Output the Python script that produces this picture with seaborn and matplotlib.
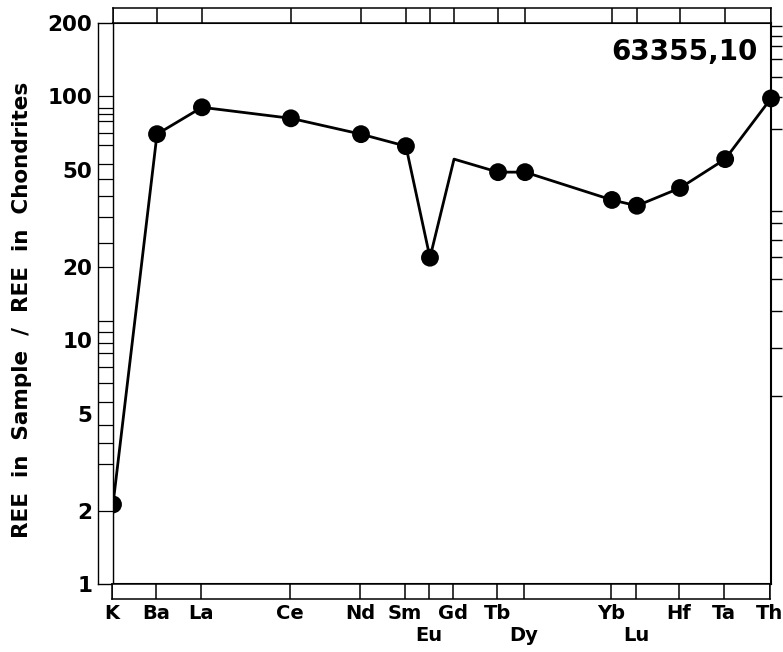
import matplotlib
matplotlib.use("Agg")
import matplotlib.pyplot as plt
import seaborn as sns
import pandas as pd
from matplotlib.ticker import NullLocator, FixedLocator, FixedFormatter

# ---- data ----
elements = ["K", "Ba", "La", "Ce", "Nd", "Sm", "Eu", "Gd", "Tb", "Dy", "Yb", "Lu", "Hf", "Ta", "Th"]
x_pos = [0, 1.94, 3.92, 7.84, 10.93, 12.91, 13.97, 15.03, 16.97, 18.16, 21.99, 23.09, 24.99, 26.98, 29]
ratio = [2.12, 70.0, 90.2, 81.3, 70.0, 62.5, 21.8, 55.3, 48.9, 48.9, 37.6, 35.6, 42.1, 55.3, 98.1]
measured = [True, True, True, True, True, True, True, False, True, True, True, True, True, True, True]
lower_row = ["Eu", "Dy", "Lu"]
y_major = [1, 2, 5, 10, 20, 50, 100, 200]
y_major_labels = ["1", "2", "5", "10", "20", "50", "100", "200"]
left_strip_lines = [100, 90, 85, 79, 71, 63, 53, 46, 39, 32, 25, 20,
                    12, 10.8, 9.7, 8.9, 7.8, 6.7, 5.6, 4.5, 3.8, 3.1, 2.0]
right_ticks = [195, 177, 161, 142, 120, 99.5, 73.5,
               33.9, 30.3, 25.8, 22.0, 17.8, 13.2, 9.29, 5.90]
sample_label = "63355,10"
y_title = "REE  in  Sample  /  REE  in  Chondrites"

df = pd.DataFrame({"element": elements, "pos": x_pos, "ratio": ratio, "measured": measured})

sns.set_style("white")
plt.rcParams["font.family"] = ["DejaVu Sans"]
plt.rcParams["font.weight"] = "bold"
for key in ["text.color", "axes.labelcolor", "xtick.color", "ytick.color", "axes.edgecolor"]:
    plt.rcParams[key] = "black"

W, H = 783, 652
fig = plt.figure(figsize=(W / 100, H / 100), dpi=100)


def rect(x0, y0, x1, y1):
    return [x0 / W, 1 - y1 / H, (x1 - x0) / W, (y1 - y0) / H]


LW = 1.5
XL = (0, 29)
YL = (1, 200)

# main axes
ax = fig.add_axes(rect(113, 23, 771, 584))
sns.lineplot(data=df, x="pos", y="ratio", sort=False, estimator=None,
             color="black", lw=2.0, ax=ax, zorder=2)
sns.scatterplot(data=df[df["measured"]], x="pos", y="ratio", s=165,
                color="black", edgecolor="none", ax=ax, zorder=3)
ax.collections[-1].set_clip_on(False)
ax.set_yscale("log")
ax.set_xlim(*XL)
ax.set_ylim(*YL)
ax.set_xlabel("")
ax.set_ylabel("")
ax.set_xticks([])
ax.yaxis.tick_right()
ax.yaxis.set_major_locator(FixedLocator(right_ticks))
ax.yaxis.set_minor_locator(NullLocator())
ax.set_yticklabels([])
ax.tick_params(axis="y", direction="out", length=8, width=1.0, right=True, left=False)
for s in ax.spines.values():
    s.set_linewidth(LW)
    s.set_color("black")
ax.text(0.979, 0.948, sample_label, transform=ax.transAxes, ha="right", va="center",
        fontsize=20, fontweight="bold")

# left strip with value labels
axL = fig.add_axes(rect(98, 23, 113, 584))
axL.set_yscale("log")
axL.set_ylim(*YL)
axL.set_xlim(0, 1)
axL.set_xticks([])
axL.yaxis.set_major_locator(FixedLocator(y_major))
axL.yaxis.set_major_formatter(FixedFormatter(y_major_labels))
axL.yaxis.set_minor_locator(NullLocator())
axL.tick_params(axis="y", length=0, pad=4, labelsize=15.5)
for t in axL.get_yticklabels():
    t.set_fontweight("bold")
for v in left_strip_lines:
    axL.axhline(v, color="black", lw=0.9)
for s in axL.spines.values():
    s.set_linewidth(1.0)

# top strip
axT = fig.add_axes(rect(113, 8, 771, 23))
axT.set_xlim(*XL)
axT.set_ylim(0, 1)
axT.set_xticks([])
axT.set_yticks([])
for p in x_pos:
    axT.axvline(p, color="black", lw=1.1)
for s in axT.spines.values():
    s.set_linewidth(1.1)

# bottom strip with element labels (two staggered rows)
axB = fig.add_axes(rect(112, 584, 770, 599))
axB.set_xlim(*XL)
axB.set_ylim(0, 1)
axB.set_yticks([])
axB.set_xticks(x_pos)
axB.set_xticklabels(["" if e in lower_row else e for e in elements])
axB.tick_params(axis="x", length=0, pad=3.5, labelsize=14)
for t in axB.get_xticklabels():
    t.set_fontweight("bold")
for e, p in zip(elements, x_pos):
    if e in lower_row:
        axB.annotate(e, xy=(p, 0), xycoords=("data", "axes fraction"),
                     xytext=(0, -19.5), textcoords="offset points",
                     ha="center", va="top", fontsize=14, fontweight="bold",
                     annotation_clip=False)
for p in x_pos:
    axB.axvline(p, color="black", lw=1.1)
for s in axB.spines.values():
    s.set_linewidth(1.1)

fig.text(22 / W, 1 - 310 / H, y_title, rotation=90, ha="center", va="center",
         fontsize=15.5, fontweight="bold")

fig.savefig("out.png", dpi=100)
